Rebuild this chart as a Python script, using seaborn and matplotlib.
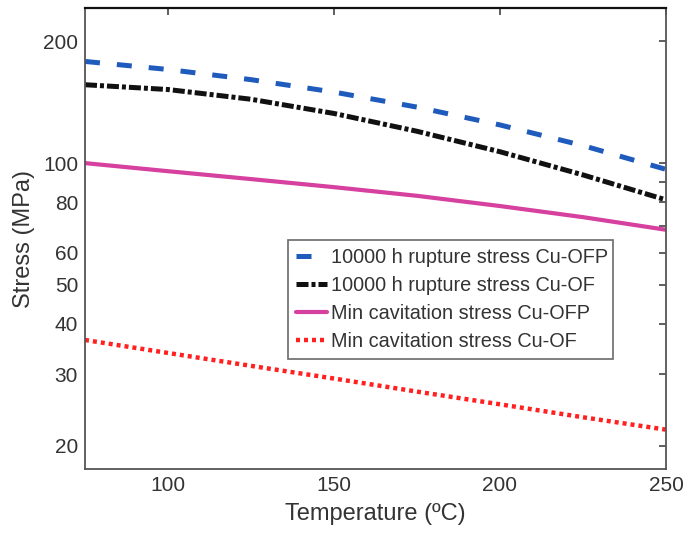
import matplotlib
matplotlib.use("Agg")
import matplotlib.pyplot as plt
import seaborn as sns
import pandas as pd

sns.set_theme(style="white")
plt.rcParams['font.family'] = ['Liberation Sans', 'DejaVu Sans']

temperature = [75, 100, 125, 150, 175, 200, 225, 250]
rupture_ofp = [178.5, 170.5, 160.9, 149.9, 137.6, 124.3, 110.5, 96.5]
rupture_of = [156.3, 152.1, 143.9, 132.7, 119.9, 106.7, 93.5, 81.1]
cavitation_ofp = [100.0, 95.5, 91.3, 87.2, 83.0, 78.3, 73.5, 68.4]
cavitation_of = [36.5, 33.9, 31.5, 29.3, 27.2, 25.3, 23.5, 21.9]

labels = ["10000 h rupture stress Cu-OFP", "10000 h rupture stress Cu-OF",
          "Min cavitation stress Cu-OFP", "Min cavitation stress Cu-OF"]
xticks = [100, 150, 200, 250]
yticks = [20, 30, 40, 50, 60, 70, 80, 90, 100, 200]
yticklabels = ["20", "30", "40", "50", "60", "", "80", "", "100", "200"]

fig = plt.figure(figsize=(6.86, 5.42), dpi=100)
ax = fig.add_axes([0.1239, 0.1347, 0.8469, 0.8505])

series = [rupture_ofp, rupture_of, cavitation_ofp, cavitation_of]
colors = ["#1f5bbd", "#111111", "#d6409f", "#ff2020"]
lws = [3.6, 3.6, 3.0, 3.2]
dash_list = [(0, (3.0, 3.4)), (0, (2.4, 0.6, 0.8, 0.6)), "-", (0, (0.9, 0.9))]

for vals, lab, c, lw, ds in zip(series, labels, colors, lws, dash_list):
    df = pd.DataFrame({"T": temperature, "S": vals})
    sns.lineplot(data=df, x="T", y="S", ax=ax, color=c, lw=lw, label=lab)
    line = ax.get_lines()[-1]
    line.set_linestyle(ds)

ax.set_yscale("log")
ax.set_xlim(75, 250)
ax.set_ylim(17.5, 242)
ax.set_xticks(xticks)
ax.set_xticklabels([str(v) for v in xticks])
ax.set_yticks(yticks)
ax.set_yticklabels(yticklabels)
ax.yaxis.set_minor_locator(matplotlib.ticker.NullLocator())
ax.tick_params(axis="both", which="major", direction="in", length=5, width=1.2,
               top=True, right=True, labelsize=15, colors="#444444",
               labelcolor="#333333", pad=5)

for side in ["left", "bottom", "right"]:
    ax.spines[side].set_color("#555555")
    ax.spines[side].set_linewidth(1.3)
ax.spines["top"].set_color("#111111")
ax.spines["top"].set_linewidth(1.6)

ax.set_xlabel("Temperature (ºC)", fontsize=17, color="#333333", labelpad=6)
ax.set_ylabel("Stress (MPa)", fontsize=17, color="#333333", labelpad=6)

leg = ax.legend(loc="upper left", bbox_to_anchor=(0.349, 0.497, 0.56, 0.0),
                mode="expand", fontsize=14.3, frameon=True, fancybox=False,
                handlelength=1.55, handletextpad=0.2, labelspacing=0.45,
                borderpad=0.42, borderaxespad=0.0)
leg.get_frame().set_edgecolor("#444444")
leg.get_frame().set_linewidth(1.2)
for t in leg.get_texts():
    t.set_color("#333333")

fig.savefig("out.png", dpi=100)
